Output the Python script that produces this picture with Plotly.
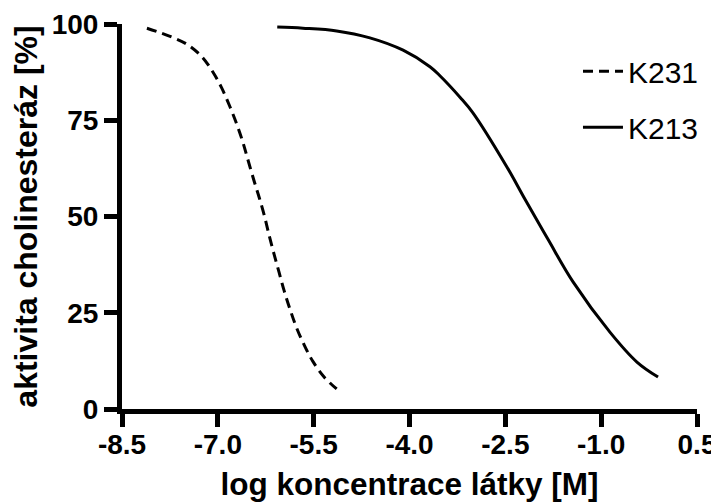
import plotly.graph_objects as go

# --- data ---
k231_x = [-8.11, -7.72, -7.47, -7.25, -7.08, -6.94, -6.81, -6.70, -6.61, -6.53,
          -6.43, -6.35, -6.27, -6.20, -6.12, -6.04, -5.96, -5.87, -5.77, -5.65,
          -5.51, -5.33, -5.14]
k231_y = [98.9, 96.6, 94.6, 91.5, 87.6, 83.4, 78.5, 73.8, 69.4, 64.8,
          59.1, 54.8, 50.1, 45.3, 40.2, 35.4, 30.6, 25.9, 21.2, 16.7,
          12.3, 8.2, 5.2]

k213_x = [-6.07, -5.67, -5.14, -4.62, -4.10, -3.68, -3.52, -3.21, -3.01, -2.48,
          -2.19, -1.83, -1.44, -0.86, -0.44, -0.11]
k213_y = [99.2, 98.9, 98.2, 96.4, 93.2, 88.9, 86.5, 81.0, 77.0, 63.0,
          54.4, 44.0, 33.0, 19.9, 12.2, 8.3]

x_tickvals = [-8.5, -7.0, -5.5, -4.0, -2.5, -1.0, 0.5]
x_ticktext = ["-8.5", "-7.0", "-5.5", "-4.0", "-2.5", "-1.0", "0.5"]
y_tickvals = [0, 25, 50, 75, 100]
y_ticktext = ["0", "25", "50", "75", "100"]

series_names = ["K231", "K213"]

FONT = "Liberation Sans, Arial, sans-serif"

fig = go.Figure()
fig.add_trace(go.Scatter(
    x=k231_x, y=k231_y, name=series_names[0], mode="lines",
    line=dict(color="black", width=3, dash="10px,6px", shape="spline", smoothing=1.0),
    legendgroup="a",
))
fig.add_trace(go.Scatter(
    x=k213_x, y=k213_y, name=series_names[1], mode="lines",
    line=dict(color="black", width=3, shape="spline", smoothing=1.0),
    legendgroup="b",
))

axis_common = dict(
    showline=True, linecolor="black", linewidth=5,
    ticks="outside", tickcolor="black", tickwidth=5, ticklen=13,
    showgrid=False, zeroline=False, automargin=False,
    tickfont=dict(family=FONT, size=28, color="black", weight="bold"),
)

# the page body adds an 8px margin, so the figure is sized to fit the window
fig.update_layout(
    width=711, height=494,
    margin=dict(l=114, r=22, t=16, b=93),
    plot_bgcolor="white", paper_bgcolor="white",
    font=dict(family=FONT, color="black"),
    showlegend=True,
    legend=dict(
        x=0.793, y=0.945, xanchor="left", yanchor="top",
        font=dict(family=FONT, size=30, color="black"),
        bgcolor="rgba(0,0,0,0)", borderwidth=0,
        tracegroupgap=14, itemwidth=40,
    ),
    xaxis=dict(
        range=[-8.5, 0.5], tickvals=x_tickvals, ticktext=x_ticktext,
        ticklabelstandoff=-7,
        title=dict(text="log koncentrace látky [M]", standoff=19,
                   font=dict(family=FONT, size=31.5, color="black", weight="bold")),
        **axis_common,
    ),
    yaxis=dict(
        range=[0, 100], tickvals=y_tickvals, ticktext=y_ticktext,
        title=dict(text="aktivita cholinesteráz [%]", standoff=6,
                   font=dict(family=FONT, size=32, color="black", weight="bold")),
        **axis_common,
    ),
)

fig.write_html("out.html")
